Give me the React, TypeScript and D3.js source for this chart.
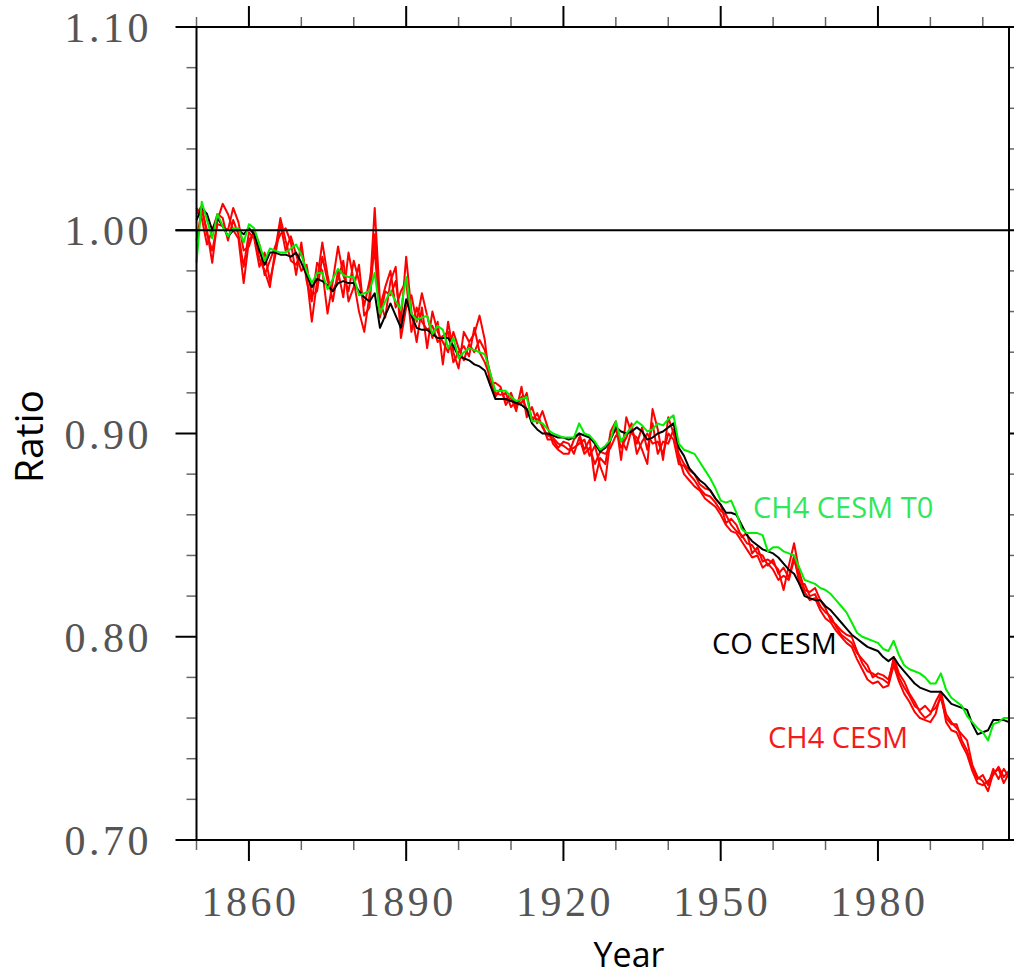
import React from "react";
import * as d3 from "d3";

// years 1850..2005, one value a year
const firstYear = 1850;

const coCesm = [
  1.005, 1.011, 1.008, 1.000, 1.006, 1.002, 0.997, 1.000, 1.000, 0.998,
  1.001, 0.998, 0.990, 0.983, 0.989, 0.989, 0.988, 0.988, 0.987, 0.989,
  0.984, 0.978, 0.972, 0.976, 0.975, 0.973, 0.970, 0.974, 0.975, 0.974,
  0.974, 0.970, 0.967, 0.965, 0.969, 0.952, 0.958, 0.964, 0.958, 0.952,
  0.966, 0.958, 0.952, 0.951, 0.951, 0.949, 0.947, 0.947, 0.947, 0.943,
  0.938, 0.937, 0.936, 0.934, 0.933, 0.931, 0.924, 0.917, 0.917, 0.917,
  0.916, 0.915, 0.914, 0.912, 0.905, 0.902, 0.900, 0.900, 0.899, 0.898,
  0.898, 0.897, 0.898, 0.900, 0.899, 0.898, 0.895, 0.891, 0.893, 0.897,
  0.903, 0.901, 0.900, 0.901, 0.903, 0.901, 0.897, 0.898, 0.900, 0.901,
  0.903, 0.905, 0.893, 0.889, 0.883, 0.880, 0.877, 0.875, 0.872, 0.868,
  0.865, 0.861, 0.861, 0.860, 0.855, 0.850, 0.847, 0.845, 0.843, 0.842,
  0.841, 0.839, 0.836, 0.833, 0.831, 0.826, 0.820, 0.819, 0.818, 0.818,
  0.815, 0.813, 0.810, 0.807, 0.804, 0.801, 0.799, 0.797, 0.795, 0.794,
  0.793, 0.790, 0.788, 0.790, 0.786, 0.783, 0.780, 0.777, 0.775, 0.774,
  0.773, 0.773, 0.773, 0.770, 0.767, 0.766, 0.765, 0.764, 0.757, 0.752,
  0.753, 0.754, 0.759, 0.759, 0.759, 0.758,
];

const ch4CesmT0 = [
  0.984, 1.014, 1.005, 0.996, 1.008, 1.002, 0.997, 1.001, 1.001, 0.994,
  1.003, 1.001, 0.993, 0.985, 0.991, 0.990, 0.989, 0.989, 0.991, 0.993,
  0.988, 0.980, 0.974, 0.979, 0.979, 0.971, 0.976, 0.981, 0.978, 0.977,
  0.977, 0.968, 0.969, 0.970, 0.979, 0.959, 0.965, 0.970, 0.965, 0.961,
  0.977, 0.959, 0.956, 0.957, 0.958, 0.949, 0.953, 0.951, 0.942, 0.947,
  0.937, 0.940, 0.942, 0.941, 0.940, 0.939, 0.930, 0.921, 0.921, 0.921,
  0.918, 0.916, 0.917, 0.918, 0.906, 0.906, 0.905, 0.902, 0.900, 0.899,
  0.898, 0.898, 0.898, 0.905, 0.900, 0.899, 0.896, 0.892, 0.894, 0.897,
  0.906, 0.896, 0.900, 0.903, 0.906, 0.904, 0.901, 0.902, 0.905, 0.904,
  0.907, 0.909, 0.895, 0.892, 0.891, 0.890, 0.886, 0.882, 0.878, 0.873,
  0.867, 0.866, 0.867, 0.861, 0.853, 0.851, 0.851, 0.851, 0.850, 0.842,
  0.844, 0.844, 0.842, 0.841, 0.840, 0.834, 0.828, 0.827, 0.826, 0.824,
  0.823, 0.821, 0.818, 0.815, 0.812, 0.807, 0.802, 0.800, 0.799, 0.798,
  0.797, 0.794, 0.793, 0.798, 0.791, 0.786, 0.784, 0.783, 0.782, 0.780,
  0.777, 0.777, 0.782, 0.774, 0.770, 0.768, 0.766, 0.761, 0.758, 0.755,
  0.753, 0.749, 0.757, 0.758, 0.760, 0.760,
];

const ch4CesmA = [
  0.995, 1.010, 1.000, 0.984, 1.005, 1.013, 1.008, 1.000, 0.996, 0.974,
  0.995, 0.999, 0.986, 0.980, 0.972, 0.990, 1.006, 0.995, 0.985, 0.983,
  0.990, 0.978, 0.955, 0.975, 0.994, 0.978, 0.965, 0.980, 0.967, 0.989,
  0.975, 0.960, 0.950, 0.968, 1.011, 0.965, 0.957, 0.975, 0.982, 0.947,
  0.962, 0.968, 0.955, 0.969, 0.958, 0.947, 0.955, 0.934, 0.955, 0.940,
  0.932, 0.950, 0.945, 0.949, 0.958, 0.946, 0.924, 0.925, 0.923, 0.914,
  0.918, 0.911, 0.923, 0.908, 0.913, 0.905, 0.911, 0.903, 0.895, 0.892,
  0.890, 0.890, 0.897, 0.900, 0.892, 0.897, 0.877, 0.888, 0.885, 0.901,
  0.906, 0.887, 0.908, 0.900, 0.898, 0.892, 0.885, 0.912, 0.902, 0.887,
  0.908, 0.900, 0.890, 0.885, 0.882, 0.880, 0.875, 0.873, 0.872, 0.868,
  0.865, 0.856, 0.858, 0.855, 0.849, 0.851, 0.841, 0.844, 0.837, 0.838,
  0.836, 0.833, 0.823, 0.835, 0.846, 0.832, 0.823, 0.822, 0.824, 0.818,
  0.814, 0.808, 0.806, 0.803, 0.801, 0.800, 0.793, 0.787, 0.783, 0.782,
  0.780, 0.779, 0.777, 0.790, 0.782, 0.778, 0.772, 0.768, 0.763, 0.760,
  0.762, 0.768, 0.773, 0.762, 0.758, 0.755, 0.752, 0.749, 0.737, 0.731,
  0.729, 0.724, 0.733, 0.735, 0.728, 0.733,
];

const ch4CesmB = [
  1.008, 1.012, 0.998, 0.990, 1.003, 1.002, 1.000, 1.011, 1.004, 0.990,
  0.992, 1.000, 0.993, 0.978, 0.985, 0.992, 0.998, 1.001, 0.994, 0.978,
  0.994, 0.975, 0.965, 0.984, 0.980, 0.959, 0.975, 0.992, 0.978, 0.970,
  0.985, 0.975, 0.963, 0.975, 0.990, 0.957, 0.970, 0.968, 0.975, 0.955,
  0.987, 0.960, 0.945, 0.962, 0.942, 0.960, 0.950, 0.945, 0.940, 0.950,
  0.942, 0.936, 0.944, 0.940, 0.946, 0.941, 0.930, 0.920, 0.919, 0.920,
  0.913, 0.916, 0.915, 0.920, 0.906, 0.910, 0.903, 0.899, 0.898, 0.895,
  0.894, 0.892, 0.893, 0.895, 0.897, 0.889, 0.894, 0.884, 0.877, 0.898,
  0.902, 0.893, 0.898, 0.905, 0.890, 0.896, 0.900, 0.895, 0.896, 0.890,
  0.900, 0.897, 0.885, 0.884, 0.880, 0.877, 0.873, 0.870, 0.869, 0.866,
  0.862, 0.860, 0.855, 0.852, 0.850, 0.846, 0.845, 0.841, 0.840, 0.835,
  0.838, 0.831, 0.834, 0.829, 0.840, 0.826, 0.826, 0.820, 0.821, 0.815,
  0.812, 0.810, 0.805, 0.801, 0.799, 0.797, 0.792, 0.789, 0.786, 0.780,
  0.782, 0.781, 0.779, 0.788, 0.780, 0.775, 0.771, 0.766, 0.764, 0.766,
  0.763, 0.765, 0.770, 0.760, 0.757, 0.757, 0.749, 0.744, 0.735, 0.730,
  0.732, 0.727, 0.735, 0.730, 0.735, 0.731,
];

const ch4CesmC = [
  1.011, 1.006, 0.993, 1.000, 1.008, 1.006, 0.995, 1.005, 0.998, 0.982,
  0.999, 0.996, 0.982, 0.989, 0.975, 0.987, 1.003, 0.990, 0.997, 0.988,
  0.980, 0.983, 0.968, 0.970, 0.987, 0.975, 0.970, 0.976, 0.985, 0.965,
  0.972, 0.983, 0.958, 0.962, 0.998, 0.962, 0.972, 0.980, 0.962, 0.970,
  0.975, 0.950, 0.962, 0.955, 0.951, 0.953, 0.945, 0.948, 0.950, 0.935,
  0.940, 0.943, 0.938, 0.952, 0.940, 0.935, 0.928, 0.918, 0.922, 0.916,
  0.920, 0.913, 0.918, 0.912, 0.908, 0.907, 0.904, 0.897, 0.897, 0.893,
  0.896, 0.895, 0.890, 0.898, 0.890, 0.893, 0.885, 0.891, 0.890, 0.893,
  0.899, 0.897, 0.892, 0.902, 0.895, 0.903, 0.892, 0.905, 0.890, 0.896,
  0.895, 0.902, 0.888, 0.880, 0.877, 0.874, 0.872, 0.868, 0.866, 0.864,
  0.860, 0.855, 0.852, 0.851, 0.847, 0.843, 0.839, 0.840, 0.834, 0.836,
  0.833, 0.828, 0.830, 0.828, 0.838, 0.829, 0.822, 0.818, 0.819, 0.813,
  0.809, 0.807, 0.803, 0.800, 0.797, 0.795, 0.789, 0.784, 0.779, 0.777,
  0.778, 0.775, 0.776, 0.786, 0.778, 0.772, 0.768, 0.763, 0.760, 0.759,
  0.758, 0.762, 0.772, 0.758, 0.754, 0.753, 0.747, 0.742, 0.734, 0.728,
  0.727, 0.729, 0.732, 0.736, 0.731, 0.734,
];

const xMajorTicks = [1860, 1890, 1920, 1950, 1980];
const xMinorTicks = [1850, 1870, 1880, 1900, 1910, 1930, 1940, 1960, 1970, 1990, 2000];
const yMajorTicks = [0.7, 0.8, 0.9, 1.0, 1.1];
const yMinorTicks = [0.72, 0.74, 0.76, 0.78, 0.82, 0.84, 0.86, 0.88, 0.92, 0.94, 0.96, 0.98, 1.02, 1.04, 1.06, 1.08];

const labels = [
  { text: "CH4 CESM T0", color: "#2fe85a" },
  { text: "CO CESM", color: "#000" },
  { text: "CH4 CESM", color: "#f51a1a" },
];

const W = 1014;
const H = 976;
const left = 196.5;
const right = 1009;
const top = 27;
const bottom = 840;

export default function App() {
  const x = d3.scaleLinear().domain([1850, 2005]).range([left, right]);
  const y = d3.scaleLinear().domain([0.7, 1.1]).range([bottom, top]);
  const line = d3
    .line<number>()
    .x((_, i) => x(firstYear + i))
    .y((d) => y(d));

  const majorLen = 21;
  const minorLen = 10;
  const tickFont = "'Liberation Serif', 'DejaVu Serif', serif";
  const sansFont = "'Open Sans', 'Noto Sans', sans-serif";

  return (
    <div style={{ position: "absolute", left: 0, top: 0 }}>
      <svg width={W} height={H} style={{ display: "block", background: "#fff" }}>
        {/* data */}
        <g fill="none" strokeWidth={2} strokeLinejoin="round">
          {[ch4CesmA, ch4CesmB, ch4CesmC].map((s, i) => (
            <path key={i} d={line(s) || ""} stroke="#ff0000" />
          ))}
          <path d={line(coCesm) || ""} stroke="#000" />
          <path d={line(ch4CesmT0) || ""} stroke="#00ee00" />
        </g>

        {/* reference line at 1.00 */}
        <line x1={left - majorLen} x2={right} y1={y(1)} y2={y(1)} stroke="#000" strokeWidth={2} />

        {/* x ticks, bottom and top */}
        {xMajorTicks.map((t) => (
          <g key={"xM" + t} stroke="#000" strokeWidth={2}>
            <line x1={x(t)} x2={x(t)} y1={bottom} y2={bottom + majorLen} />
            <line x1={x(t)} x2={x(t)} y1={top} y2={top - majorLen} />
          </g>
        ))}
        {xMinorTicks.map((t) => (
          <g key={"xm" + t} stroke="#666" strokeWidth={1.5}>
            <line x1={x(t)} x2={x(t)} y1={bottom} y2={bottom + minorLen} />
            <line x1={x(t)} x2={x(t)} y1={top} y2={top - minorLen} />
          </g>
        ))}
        {/* y ticks, left and right */}
        {yMajorTicks.map((t) => (
          <g key={"yM" + t} stroke="#000" strokeWidth={2}>
            <line x1={left} x2={left - majorLen} y1={y(t)} y2={y(t)} />
            <line x1={right} x2={right + majorLen} y1={y(t)} y2={y(t)} />
          </g>
        ))}
        {yMinorTicks.map((t) => (
          <g key={"ym" + t} stroke="#666" strokeWidth={1.5}>
            <line x1={left} x2={left - minorLen} y1={y(t)} y2={y(t)} />
            <line x1={right} x2={right + minorLen} y1={y(t)} y2={y(t)} />
          </g>
        ))}

        {/* frame */}
        <rect x={left} y={top} width={right - left} height={bottom - top} fill="none" stroke="#000" strokeWidth={2} />

        {/* tick labels */}
        <g fontFamily={tickFont} fontSize={42} fill="#555" letterSpacing={3.5}>
          {xMajorTicks.map((t) => (
            <text key={"xl" + t} x={x(t) + 1.5} y={916} textAnchor="middle">
              {t}
            </text>
          ))}
          {yMajorTicks.map((t) => (
            <text key={"yl" + t} x={152} y={y(t) + 15} textAnchor="end">
              {t.toFixed(2)}
            </text>
          ))}
        </g>

        {/* axis titles */}
        <text x={629} y={967} textAnchor="middle" fontFamily={sansFont} fontSize={34} fill="#000">
          Year
        </text>
        <text
          transform={`translate(43, ${(top + bottom) / 2 + 3}) rotate(-90)`}
          textAnchor="middle"
          fontFamily={sansFont}
          fontSize={39}
          fill="#000"
        >
          Ratio
        </text>

        {/* series labels */}
        <g fontFamily={sansFont} fontSize={29}>
          <text x={753} y={518} fill={labels[0].color}>{labels[0].text}</text>
          <text x={712} y={654} fill={labels[1].color}>{labels[1].text}</text>
          <text x={768} y={748} fill={labels[2].color}>{labels[2].text}</text>
        </g>
      </svg>
    </div>
  );
}
